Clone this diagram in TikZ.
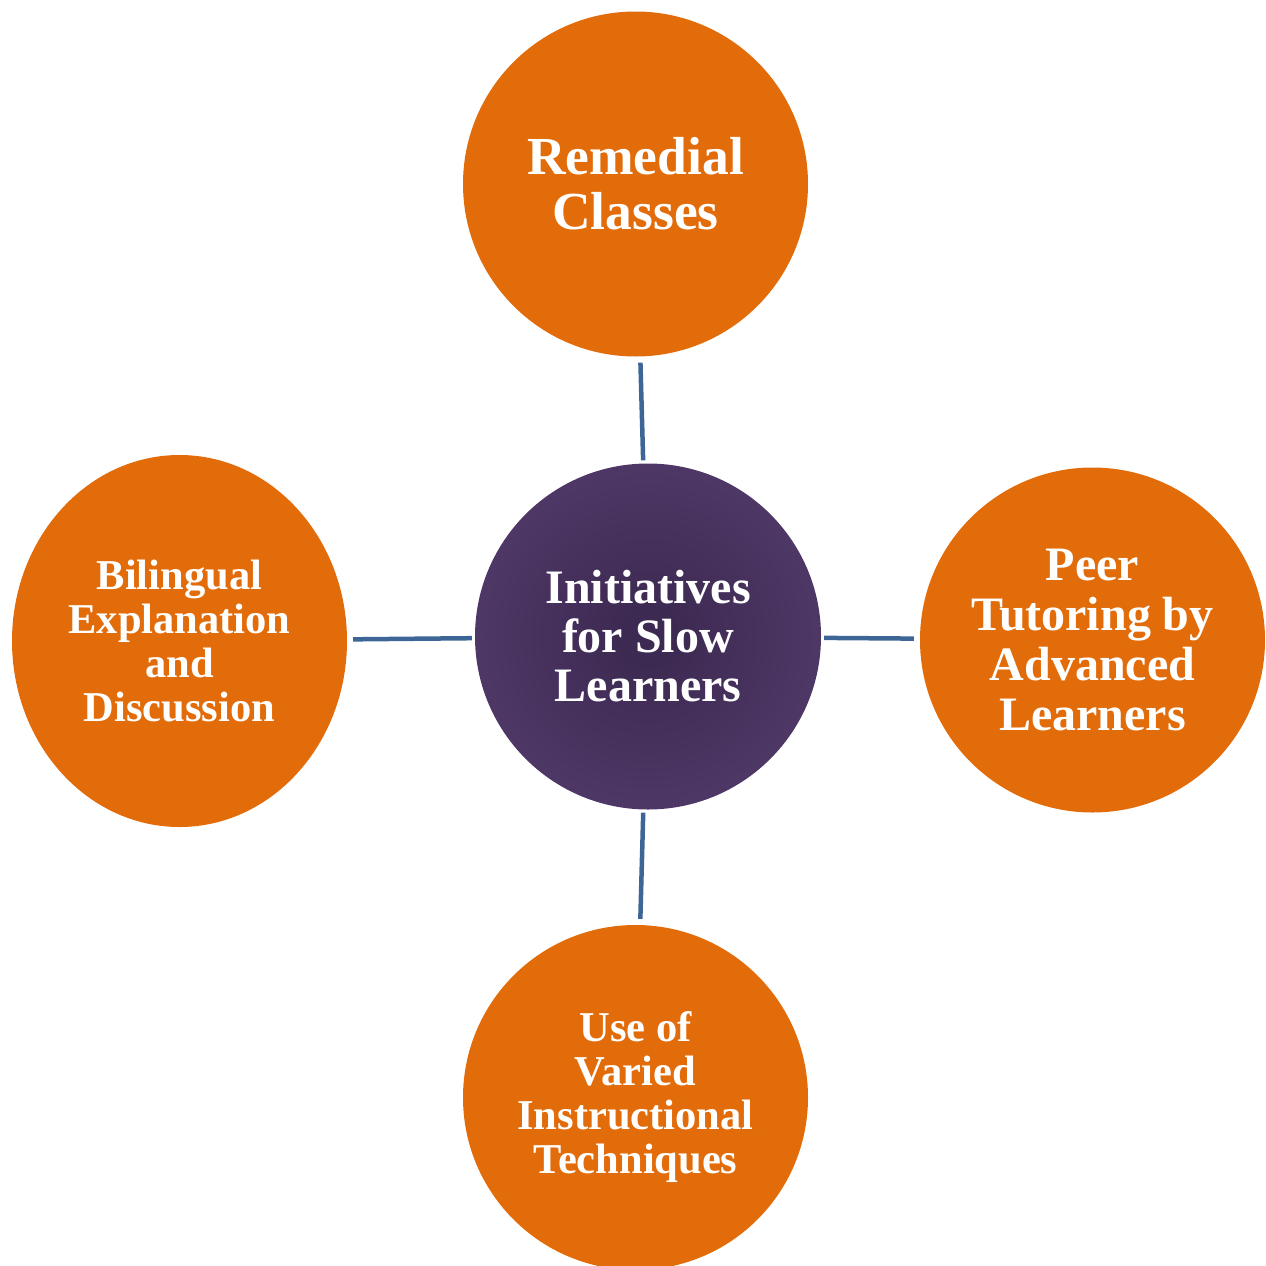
\documentclass[tikz,border=0pt]{standalone}
\usepackage{fontspec}
\setmainfont{Liberation Serif}
\usepackage{tikz}
\usepackage{xcolor}
\usetikzlibrary{shapes.geometric}
\definecolor{leaforange}{HTML}{E36C0A}
\definecolor{spokeblue}{HTML}{3D6697}
\definecolor{hubdark}{HTML}{3D2A52}
\definecolor{hubedge}{HTML}{5A4174}
\pgfdeclareradialshading{hubglow}{\pgfpoint{0bp}{0bp}}{color(0bp)=(hubdark); color(4bp)=(hubdark); color(40bp)=(hubedge); color(75bp)=(hubedge)}
\tikzset{
  leaf/.style={circle, fill=leaforange, text=white, align=center, inner sep=0pt, minimum size=345pt},
  spoke/.style={line width=4.5pt, spokeblue, shorten <=3pt, shorten >=6pt}
}

\begin{document}
\begin{tikzpicture}[x=1pt, y=-1pt]
      \useasboundingbox (0, 0) rectangle (1266, 1266);
      % hub
      \node[circle, shading=hubglow, text=white, align=center, inner sep=0pt, minimum size=346pt,
        font=\bfseries\fontsize{48}{49}\selectfont] (hub) at (648, 636.5) {Initiatives\\for Slow\\Learners};
      % outer circles
      \node[leaf, font=\bfseries\fontsize{53.5}{55}\selectfont] (remedial) at (635.5, 184) {Remedial\\Classes};
      \node[leaf, font=\bfseries\fontsize{48}{50}\selectfont] (peer) at (1092.5, 640) {Peer\\Tutoring by\\Advanced\\Learners};
      \node[leaf, font=\bfseries\fontsize{42.5}{44}\selectfont] (varied) at (635.5, 1097.5) {Use of\\Varied\\Instructional\\Techniques};
      \node[leaf, ellipse, minimum width=335pt, minimum height=372pt,
        font=\bfseries\fontsize{42.5}{44}\selectfont] (bilingual) at (179.5, 641) {Bilingual\\Explanation\\and\\Discussion};
      % spokes
      \draw[spoke] (hub) -- (remedial);
      \draw[spoke] (hub) -- (peer);
      \draw[spoke] (hub) -- (varied);
      \draw[spoke] (hub) -- (bilingual);
    \end{tikzpicture}
\end{document}
